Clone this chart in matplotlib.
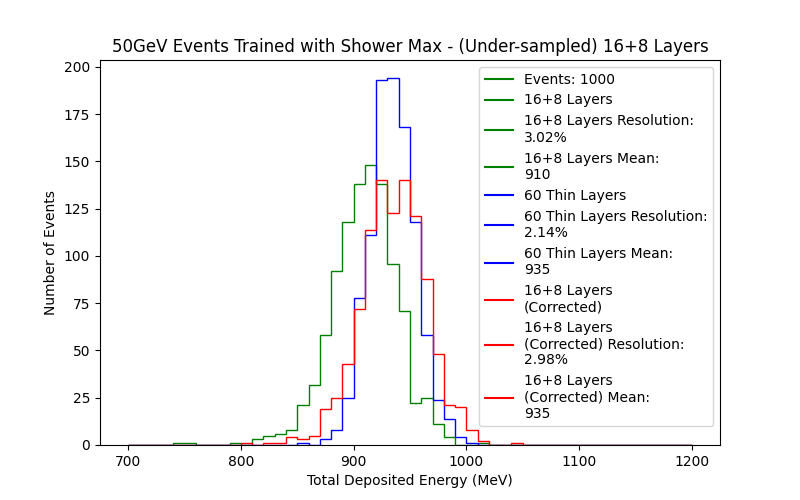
import matplotlib
matplotlib.use("Agg")
import matplotlib.pyplot as plt
import numpy as np
from matplotlib.lines import Line2D

# 10 MeV bins from 700 to 1200 MeV
bin_edges = np.arange(700, 1201, 10)

# counts per bin
layers_16_8 = [0, 0, 0, 0, 1, 1, 0, 0, 0, 1,
               0, 3, 5, 6, 8, 21, 32, 58, 92, 118,
               138, 148, 138, 96, 71, 22, 25, 11, 4, 0,
               0, 1, 0, 0, 0, 0, 0, 0, 0, 0,
               0, 0, 0, 0, 0, 0, 0, 0, 0, 0]
thin_60 = [0, 0, 0, 0, 0, 0, 0, 0, 0, 0,
           0, 0, 0, 0, 0, 1, 0, 3, 8, 25,
           78, 111, 193, 194, 168, 118, 58, 24, 14, 4,
           1, 0, 0, 0, 0, 0, 0, 0, 0, 0,
           0, 0, 0, 0, 0, 0, 0, 0, 0, 0]
layers_16_8_corr = [0, 0, 0, 0, 0, 0, 0, 0, 0, 0,
                    1, 0, 1, 1, 4, 3, 5, 19, 25, 43,
                    72, 114, 140, 123, 140, 121, 88, 48, 21, 20,
                    8, 2, 0, 0, 1, 0, 0, 0, 0, 0,
                    0, 0, 0, 0, 0, 0, 0, 0, 0, 0]

n_events = 1000
res_16_8, mean_16_8 = "3.02%", 910
res_thin, mean_thin = "2.14%", 935
res_corr, mean_corr = "2.98%", 935

centers = (bin_edges[:-1] + bin_edges[1:]) / 2

fig, ax = plt.subplots(figsize=(8, 5), dpi=100)
ax.hist(centers, bins=bin_edges, weights=layers_16_8, histtype="step", color="green")
ax.hist(centers, bins=bin_edges, weights=thin_60, histtype="step", color="blue")
ax.hist(centers, bins=bin_edges, weights=layers_16_8_corr, histtype="step", color="red")

entries = [
    ("green", f"Events: {n_events}"),
    ("green", "16+8 Layers"),
    ("green", f"16+8 Layers Resolution:\n{res_16_8}"),
    ("green", f"16+8 Layers Mean:\n{mean_16_8}"),
    ("blue", "60 Thin Layers"),
    ("blue", f"60 Thin Layers Resolution:\n{res_thin}"),
    ("blue", f"60 Thin Layers Mean:\n{mean_thin}"),
    ("red", "16+8 Layers\n(Corrected)"),
    ("red", f"16+8 Layers\n(Corrected) Resolution:\n{res_corr}"),
    ("red", f"16+8 Layers\n(Corrected) Mean:\n{mean_corr}"),
]
handles = [Line2D([], [], color=c) for c, _ in entries]
labels = [t for _, t in entries]
ax.legend(handles, labels, loc="upper right")

ax.set_title("50GeV Events Trained with Shower Max - (Under-sampled) 16+8 Layers")
ax.set_xlabel("Total Deposited Energy (MeV)")
ax.set_ylabel("Number of Events")

fig.savefig("out.png", dpi=100)
